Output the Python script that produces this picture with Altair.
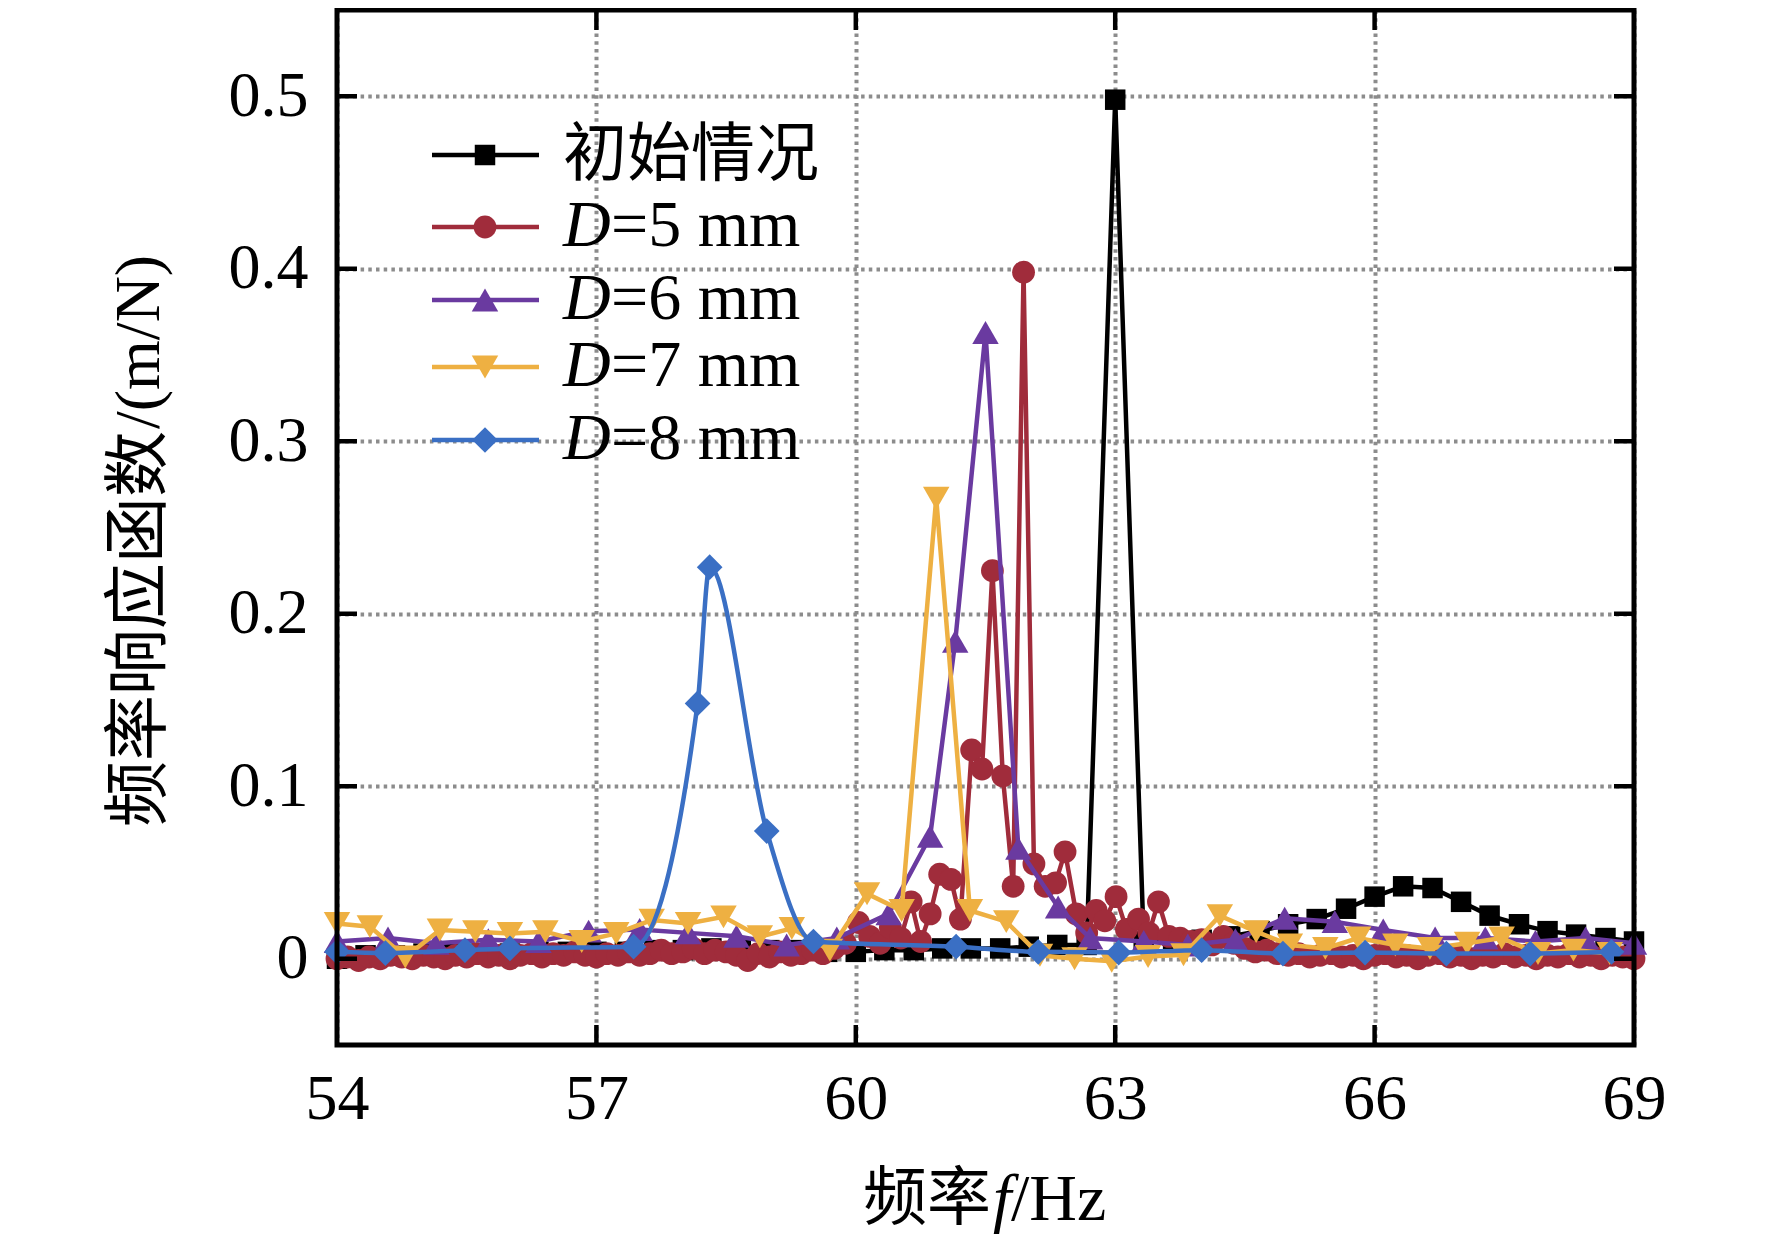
import altair as alt
import pandas as pd

# ---------------- data ----------------
black_x = [54.0, 54.33, 54.67, 55.0, 55.33, 55.67, 56.0, 56.33, 56.67, 57.0, 57.33, 57.67,
           58.0, 58.33, 58.67, 59.0, 59.33, 59.67, 60.0, 60.33, 60.67, 61.0, 61.33, 61.67,
           62.0, 62.33, 62.67, 63.0, 63.33, 63.67, 64.0, 64.33, 64.67, 65.0, 65.33, 65.67,
           66.0, 66.33, 66.67, 67.0, 67.33, 67.67, 68.0, 68.33, 68.67, 69.0]
black_y = [0.000, 0.002, 0.002, 0.003, 0.003, 0.003, 0.003, 0.004, 0.004, 0.004, 0.004, 0.005,
           0.005, 0.006, 0.006, 0.005, 0.005, 0.004, 0.004, 0.005, 0.005, 0.006, 0.006, 0.006,
           0.007, 0.008, 0.008, 0.498, 0.010, 0.010, 0.011, 0.013, 0.016, 0.020, 0.023, 0.029,
           0.036, 0.042, 0.041, 0.033, 0.025, 0.020, 0.016, 0.014, 0.012, 0.010]

red_x = [54.00, 54.12, 54.25, 54.37, 54.50, 54.62, 54.75, 54.87, 55.00, 55.12, 55.25, 55.37,
         55.50, 55.62, 55.75, 55.87, 56.00, 56.12, 56.25, 56.37, 56.50, 56.62, 56.75, 56.87,
         57.00, 57.12, 57.25, 57.37, 57.50, 57.62, 57.75, 57.87, 58.00, 58.12, 58.25, 58.37,
         58.50, 58.62, 58.75, 58.87, 59.00, 59.12, 59.25, 59.37, 59.50, 59.62, 59.75, 59.88,
         60.03, 60.16, 60.28, 60.40, 60.52, 60.64, 60.75, 60.86, 60.97, 61.10, 61.21, 61.34,
         61.46, 61.58, 61.70, 61.82, 61.94, 62.06, 62.19, 62.31, 62.42, 62.55, 62.67, 62.78,
         62.88, 63.01, 63.13, 63.27, 63.39, 63.50, 63.62, 63.75, 63.88, 64.00, 64.12, 64.25,
         64.37, 64.50, 64.62, 64.75, 64.87, 65.00, 65.12, 65.25, 65.37, 65.50, 65.62, 65.75,
         65.87, 66.00, 66.12, 66.25, 66.37, 66.50, 66.62, 66.75, 66.87, 67.00, 67.12, 67.25,
         67.37, 67.50, 67.62, 67.75, 67.87, 68.00, 68.12, 68.25, 68.37, 68.50, 68.62, 68.75,
         68.87, 69.00]
red_y = [0.000, 0.001, -0.001, 0.001, 0.000, 0.002, 0.001, 0.000, 0.002, 0.001, 0.000, 0.002,
         0.001, 0.003, 0.001, 0.002, 0.000, 0.002, 0.003, 0.001, 0.003, 0.002, 0.004, 0.002,
         0.001, 0.003, 0.002, 0.004, 0.002, 0.003, 0.005, 0.003, 0.004, 0.006, 0.003, 0.005,
         0.004, 0.002, -0.001, 0.003, 0.001, 0.004, 0.002, 0.003, 0.005, 0.003, 0.006, 0.009,
         0.021, 0.013, 0.009, 0.018, 0.012, 0.033, 0.010, 0.026, 0.049, 0.046, 0.023, 0.121,
         0.110, 0.225, 0.106, 0.042, 0.398, 0.055, 0.042, 0.044, 0.062, 0.026, 0.015, 0.028,
         0.022, 0.036, 0.017, 0.023, 0.015, 0.033, 0.013, 0.012, 0.010, 0.011, 0.008, 0.013,
         0.009, 0.006, 0.004, 0.005, 0.003, 0.002, 0.003, 0.001, 0.002, 0.003, 0.001, 0.002,
         0.000, 0.002, 0.003, 0.001, 0.002, 0.000, 0.002, 0.003, 0.001, 0.002, 0.000, 0.002,
         0.001, 0.003, 0.001, 0.002, 0.000, 0.002, 0.001, 0.003, 0.001, 0.002, 0.000, 0.002,
         0.001, 0.000]

purple_x = [54.00, 54.59, 55.15, 55.75, 56.33, 56.91, 57.50, 58.06, 58.62, 59.20, 59.78,
            60.38, 60.86, 61.15, 61.50, 61.88, 62.34, 62.71, 63.33, 63.84, 64.39, 64.96,
            65.54, 66.10, 66.70, 67.28, 67.86, 68.44, 69.00]
purple_y = [0.010, 0.012, 0.009, 0.011, 0.010, 0.016, 0.017, 0.015, 0.013, 0.008, 0.012,
            0.026, 0.071, 0.184, 0.363, 0.064, 0.030, 0.012, 0.010, 0.008, 0.011, 0.0235,
            0.0215, 0.0167, 0.012, 0.012, 0.010, 0.012, 0.009]

orange_x = [54.00, 54.38, 54.79, 55.19, 55.60, 56.00, 56.41, 56.83, 57.23, 57.64, 58.06,
            58.47, 58.89, 59.26, 59.70, 60.13, 60.53, 60.93, 61.32, 61.74, 62.13, 62.53,
            62.96, 63.38, 63.79, 64.21, 64.63, 65.02, 65.43, 65.81, 66.24, 66.64, 67.07,
            67.47, 67.89, 68.30, 68.72]
orange_y = [0.0205, 0.0186, 0.001, 0.0167, 0.0157, 0.0147, 0.0157, 0.010, 0.0147, 0.0224,
            0.0205, 0.0243, 0.0128, 0.0176, 0.005, 0.0377, 0.028, 0.267, 0.028, 0.0215,
            0.002, 0.000, -0.0015, 0.0013, 0.0023, 0.025, 0.0157, 0.008, 0.006, 0.012,
            0.008, 0.006, 0.009, 0.012, 0.003, 0.005, 0.003]

blue_x = [54.00, 54.56, 55.48, 56.00, 57.43, 58.17, 58.31, 58.97, 59.51, 61.16, 62.11,
          63.04, 64.00, 64.94, 65.89, 66.83, 67.80, 68.74]
blue_y = [0.004, 0.0033, 0.005, 0.006, 0.007, 0.148, 0.227, 0.074, 0.010, 0.007, 0.004,
          0.0036, 0.005, 0.003, 0.0036, 0.003, 0.003, 0.004]

series_colors = ["#000000", "#a02c3b", "#6a3aa0", "#eeb042", "#3a6fc4"]
series_shapes = ["square", "circle", "triangle-up", "triangle-down", "diamond"]
series_sizes = [420, 520, 700, 700, 660]
series_interp = ["linear", "linear", "linear", "linear", "monotone"]
legend_main = ["初始情况", "D", "D", "D", "D"]
legend_rest = ["", "=5 mm", "=6 mm", "=7 mm", "=8 mm"]

x_ticks = [54, 57, 60, 63, 66, 69]
y_ticks = [0, 0.1, 0.2, 0.3, 0.4, 0.5]

# ---------------- layout / style ----------------
W, H = 1297, 1035
SERIF = "Liberation Serif"
CJK = "Noto Sans CJK SC"
GRID = "#8c8c8c"

x_axis = alt.Axis(values=x_ticks, grid=True, gridColor=GRID, gridDash=[3.5, 4.2],
                  gridWidth=4, gridOpacity=1, ticks=False, tickSize=0, domain=False,
                  labelFont=SERIF, labelFontSize=64, labelColor="black", labelPadding=22,
                  labelFlush=False, labelOverlap=False, format="d", title=None)
y_axis = alt.Axis(values=y_ticks, grid=True, gridColor=GRID, gridDash=[3.5, 4.2],
                  gridWidth=4, gridOpacity=1, ticks=False, tickSize=0, domain=False,
                  labelFont=SERIF, labelFontSize=64, labelColor="black", labelPadding=29,
                  labelOverlap=False,
                  labelExpr="datum.value == 0 ? '0' : format(datum.value, '.1f')",
                  title=None)

x_enc = alt.X("x:Q", scale=alt.Scale(domain=[54, 69], nice=False, zero=False), axis=x_axis)
y_enc = alt.Y("y:Q", scale=alt.Scale(domain=[-0.05, 0.55], nice=False, zero=False), axis=y_axis)

all_x = [black_x, red_x, purple_x, orange_x, blue_x]
all_y = [black_y, red_y, purple_y, orange_y, blue_y]

layers = []
for i in range(5):
    df = pd.DataFrame({"x": all_x[i], "y": all_y[i]})
    base = alt.Chart(df)
    layers.append(base.mark_line(color=series_colors[i], strokeWidth=4.5,
                                 interpolate=series_interp[i]).encode(x=x_enc, y=y_enc))
    layers.append(base.mark_point(shape=series_shapes[i], filled=True, opacity=1,
                                  size=series_sizes[i], color=series_colors[i]
                                  ).encode(x=x_enc, y=y_enc))

# inward ticks on all four sides
xt = alt.Chart(pd.DataFrame({"x": x_ticks[1:-1]}))
yt = alt.Chart(pd.DataFrame({"y": y_ticks}))
layers.append(xt.mark_rule(color="black", strokeWidth=4.5).encode(x=x_enc, y=alt.value(H - 20), y2=alt.value(H)))
layers.append(xt.mark_rule(color="black", strokeWidth=4.5).encode(x=x_enc, y=alt.value(0), y2=alt.value(20)))
layers.append(yt.mark_rule(color="black", strokeWidth=4.5).encode(y=y_enc, x=alt.value(0), x2=alt.value(20)))
layers.append(yt.mark_rule(color="black", strokeWidth=4.5).encode(y=y_enc, x=alt.value(W - 20), x2=alt.value(W)))

one = pd.DataFrame({"a": [0]})
# frame
layers.append(alt.Chart(one).mark_rect(fillOpacity=0, stroke="black", strokeWidth=5).encode(
    x=alt.value(0), x2=alt.value(W), y=alt.value(0), y2=alt.value(H)))

# legend (inside plot, upper left)
leg_rows = [145, 217, 290, 357, 430]
for i in range(5):
    yc = leg_rows[i]
    layers.append(alt.Chart(one).mark_rule(color=series_colors[i], strokeWidth=4.5).encode(
        x=alt.value(95), x2=alt.value(202), y=alt.value(yc)))
    layers.append(alt.Chart(one).mark_point(shape=series_shapes[i], filled=True, opacity=1,
                                            size=series_sizes[i], color=series_colors[i]
                                            ).encode(x=alt.value(148), y=alt.value(yc)))
    if i == 0:
        layers.append(alt.Chart(one).mark_text(text=legend_main[i], font=CJK, fontSize=64,
                                               align="left", baseline="alphabetic",
                                               color="black").encode(
            x=alt.value(226), y=alt.value(yc + 20)))
    else:
        layers.append(alt.Chart(one).mark_text(text=legend_main[i], font=SERIF, fontSize=66,
                                               fontStyle="italic", align="left",
                                               baseline="alphabetic", color="black").encode(
            x=alt.value(226), y=alt.value(yc + 19)))
        layers.append(alt.Chart(one).mark_text(text=legend_rest[i], font=SERIF, fontSize=66,
                                               align="left", baseline="alphabetic",
                                               color="black").encode(
            x=alt.value(274), y=alt.value(yc + 19)))

# x-axis title: 频率 f /Hz
XT_Y = 1190
layers.append(alt.Chart(one).mark_text(text="频率", font=CJK, fontSize=64, align="left",
                                       baseline="middle", color="black").encode(
    x=alt.value(526), y=alt.value(XT_Y)))
layers.append(alt.Chart(one).mark_text(text="f", font=SERIF, fontSize=66, fontStyle="italic",
                                       align="left", baseline="middle", color="black").encode(
    x=alt.value(656), y=alt.value(XT_Y)))
layers.append(alt.Chart(one).mark_text(text="/Hz", font=SERIF, fontSize=66, align="left",
                                       baseline="middle", color="black").encode(
    x=alt.value(674), y=alt.value(XT_Y)))

# y-axis title: 频率响应函数/(m/N)
layers.append(alt.Chart(one).mark_text(text="频率响应函数", font=CJK, fontSize=66, angle=270,
                                       align="left", baseline="middle", color="black").encode(
    x=alt.value(-197), y=alt.value(817)))
layers.append(alt.Chart(one).mark_text(text="/(m/N)", font=SERIF, fontSize=64, angle=270,
                                       align="left", baseline="middle", color="black").encode(
    x=alt.value(-197), y=alt.value(419)))

chart = alt.layer(*layers).properties(
    width=W, height=H,
    padding={"left": 329, "top": 2, "right": 130, "bottom": 195},
    autosize=alt.AutoSizeParams(type="none"),
).configure_view(strokeWidth=0)

chart.save("out.html", embed_options={"renderer": "svg", "actions": False})
